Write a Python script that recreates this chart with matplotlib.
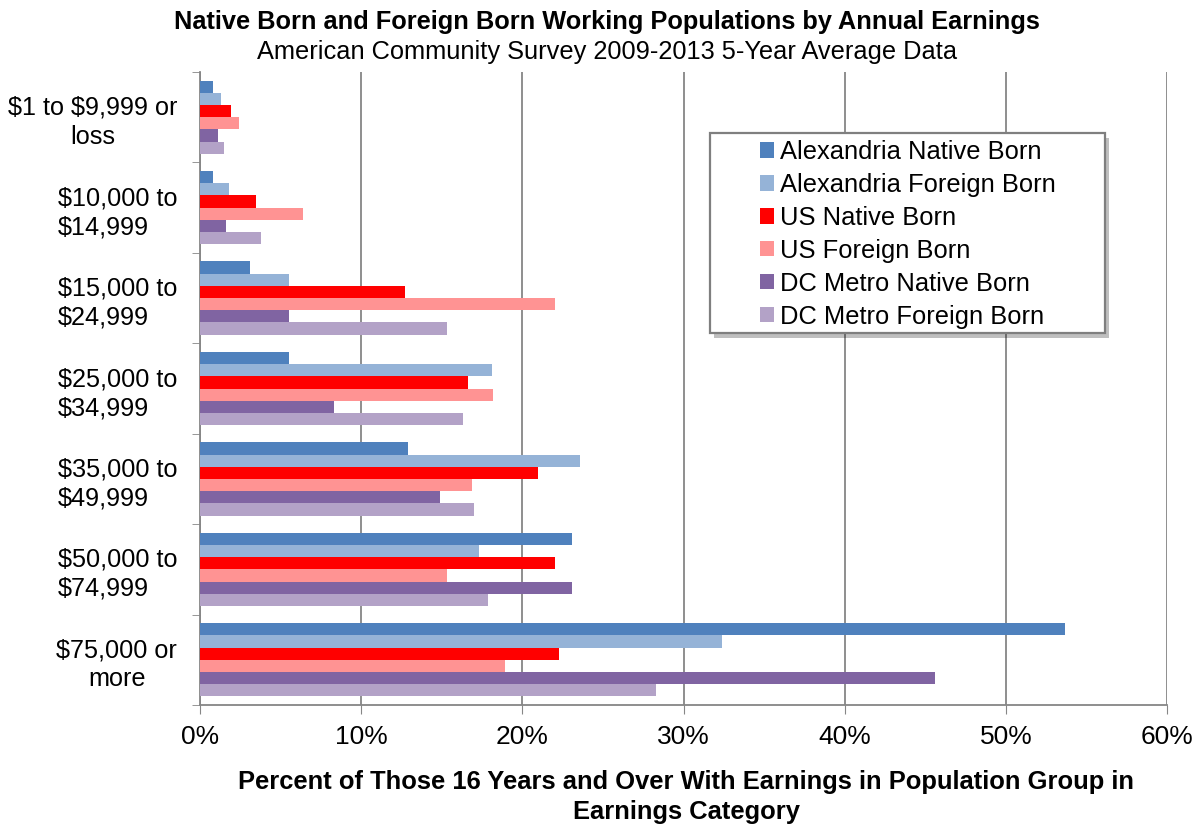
import matplotlib
matplotlib.use("Agg")
import matplotlib.pyplot as plt
import numpy as np
from matplotlib.ticker import FixedLocator, FuncFormatter
from matplotlib.patches import Rectangle

plt.rcParams['font.family'] = ['Liberation Sans', 'DejaVu Sans']

categories = ["\\$1 to \\$9,999 or\nloss", "\\$10,000 to\n\\$14,999", "\\$15,000 to\n\\$24,999",
              "\\$25,000 to\n\\$34,999", "\\$35,000 to\n\\$49,999", "\\$50,000 to\n\\$74,999",
              "\\$75,000 or\nmore"]
series_names = ["Alexandria Native Born", "Alexandria Foreign Born", "US Native Born",
                "US Foreign Born", "DC Metro Native Born", "DC Metro Foreign Born"]
alex_native = [0.8, 0.8, 3.1, 5.5, 12.9, 23.1, 53.7]
alex_foreign = [1.3, 1.8, 5.5, 18.1, 23.6, 17.3, 32.4]
us_native = [1.9, 3.5, 12.7, 16.6, 21.0, 22.0, 22.3]
us_foreign = [2.4, 6.4, 22.0, 18.2, 16.9, 15.3, 18.9]
dc_native = [1.1, 1.6, 5.5, 8.3, 14.9, 23.1, 45.6]
dc_foreign = [1.5, 3.8, 15.3, 16.3, 17.0, 17.9, 28.3]
colors = ["#4F81BD", "#95B3D7", "#FF0000", "#FF9393", "#8064A2", "#B3A2C7"]
xticks = [0, 10, 20, 30, 40, 50, 60]

data = [alex_native, alex_foreign, us_native, us_foreign, dc_native, dc_foreign]

W, H = 1194, 826
fig = plt.figure(figsize=(W/100, H/100), dpi=100)
ax = fig.add_axes([200/W, 1-705/H, 967/W, 633/H])

n = len(series_names)
h = 0.81 / n
y = np.arange(len(categories))
for i, (vals, c, name) in enumerate(zip(data, colors, series_names)):
    ax.barh(y - 0.405 + h*(i+0.5), vals, height=h, color=c, label=name, zorder=3)

ax.set_xlim(0, 60)
ax.set_ylim(6.5, -0.5)
ax.set_xticks(xticks)
ax.xaxis.set_major_formatter(FuncFormatter(lambda v, p: f"{int(v)}%"))
ax.tick_params(axis='x', labelsize=19, length=6.5, color='#868686', pad=8)
ax.set_yticks(y)
ax.set_yticklabels(categories, fontsize=18.2, ha='right', linespacing=1.27)
for i, lab in enumerate(ax.get_yticklabels()):
    lab.set_multialignment('center' if i in (0, len(categories)-1) else 'left')
ax.tick_params(axis='y', length=0, pad=16.5)
ax.yaxis.set_minor_locator(FixedLocator(np.arange(-0.5, 7.0, 1.0)))
ax.tick_params(axis='y', which='minor', length=6, color='#868686')
ax.grid(axis='x', color='#868686', linewidth=1.3, zorder=0)
ax.spines['top'].set_visible(False)
ax.spines['right'].set_visible(False)
for s in ['left', 'bottom']:
    ax.spines[s].set_color('#868686')
    ax.spines[s].set_linewidth(1.3)

# legend frame with shadow
bx0, bx1, by0, by1 = 710, 1105, 133, 333
shadow = Rectangle((bx0/W + 4/W, 1-by1/H - 5/H), (bx1-bx0)/W, (by1-by0)/H,
                   transform=fig.transFigure, facecolor='#000000', alpha=0.25,
                   edgecolor='none', zorder=4)
frame = Rectangle((bx0/W, 1-by1/H), (bx1-bx0)/W, (by1-by0)/H,
                  transform=fig.transFigure, facecolor='white',
                  edgecolor='#7f7f7f', linewidth=1.6, zorder=5)
fig.add_artist(shadow)
fig.add_artist(frame)

leg = ax.legend(loc='upper left', bbox_to_anchor=(760/W, 1-140/H), bbox_transform=fig.transFigure,
                fontsize=18.4, frameon=False,
                handlelength=0.55, handleheight=0.55, handletextpad=0.24, labelspacing=0.35,
                borderpad=0, borderaxespad=0)
leg.set_zorder(6)
leg.remove()
fig.add_artist(leg)

fig.text(607/W, 1-22/H, "Native Born and Foreign Born Working Populations by Annual Earnings",
         ha='center', va='center', fontsize=18.3, fontweight='bold')
fig.text(607/W, 1-52/H, "American Community Survey 2009-2013 5-Year Average Data",
         ha='center', va='center', fontsize=18.3)
fig.text(686/W, 1-782/H, "Percent of Those 16 Years and Over With Earnings in Population Group in",
         ha='center', va='center', fontsize=18.4, fontweight='bold')
fig.text(686/W, 1-812/H, "Earnings Category",
         ha='center', va='center', fontsize=18.4, fontweight='bold')

fig.savefig("out.png", dpi=100)
